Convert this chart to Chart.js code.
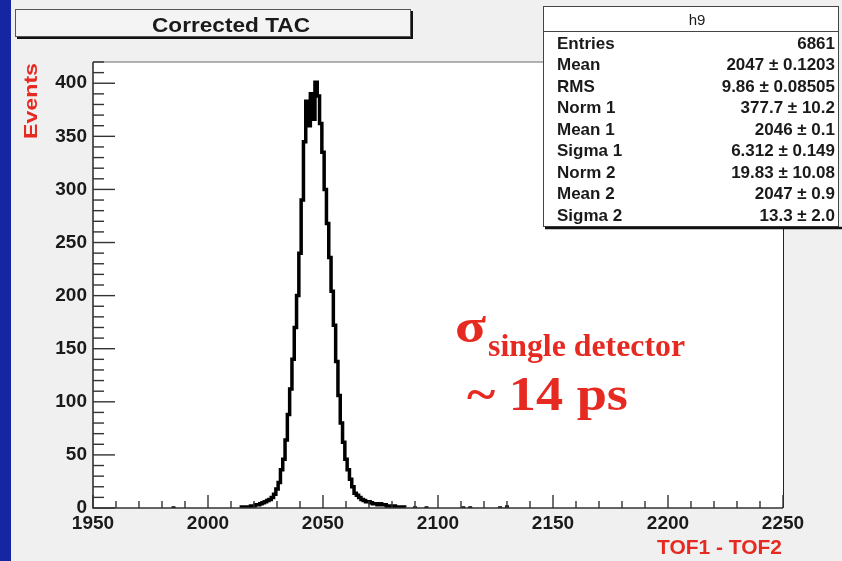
<!DOCTYPE html>
<html>
<head>
<meta charset="utf-8">
<script src="https://cdn.jsdelivr.net/npm/chart.js@4.4.1/dist/chart.umd.min.js"></script>
<style>
  html, body { margin: 0; padding: 0; background: #f0f0f0; }
  #wrap { width: 842px; height: 561px; position: relative; }
</style>
</head>
<body>
<div id="wrap"><canvas id="grafico"></canvas></div>
<script>
// histograma TOF1 - TOF2, bins de largura 1 a partir de 2014
const primeiroBin = 2014;
const contagens = [
  0, 1, 0, 1, 1, 2, 2, 3, 3, 4,          // 2014-2023
  5, 6, 7, 8, 10, 13, 18, 24, 36, 46,    // 2024-2033
  64, 88, 112, 140, 170, 200, 240, 290, 345, 383, // 2034-2043
  360, 390, 366, 401, 388, 362, 335, 300, 268, 236, // 2044-2053
  204, 172, 138, 106, 80, 62, 46, 36, 27, 20,      // 2054-2063
  14, 12, 10, 8, 7, 6, 6, 5, 4, 4,        // 2064-2073
  3, 4, 3, 3, 2, 2, 1, 2, 1, 1,           // 2074-2083
  0, 1, 0                                 // 2084-2086
];
// bins isolados com poucas entradas
const binsAvulsos = [1985, 2090, 2095, 2111, 2114, 2127, 2130];
const valoresAvulsos = [1, 1, 1, 1, 1, 1, 2];

const ticksX = [1950, 2000, 2050, 2100, 2150, 2200, 2250];
const ticksY = [0, 50, 100, 150, 200, 250, 300, 350, 400];

// caixa de estatísticas
const estatNomes = ["Entries", "Mean", "RMS", "Norm 1", "Mean 1", "Sigma 1", "Norm 2", "Mean 2", "Sigma 2"];
const estatValores = ["6861", "2047 \u00b1 0.1203", "9.86 \u00b1 0.08505", "377.7 \u00b1 10.2", "2046 \u00b1 0.1",
  "6.312 \u00b1 0.149", "19.83 \u00b1 10.08", "2047 \u00b1 0.9", "13.3 \u00b1 2.0"];

const vermelho = "#e62a22";
const corTexto = "#1a1a1a";

const pontos = contagens.map((c, i) => ({ x: primeiroBin + i, y: c }));
const pontosAvulsos = [];
binsAvulsos.forEach((b, i) => {
  pontosAvulsos.push({ x: b - 1, y: 0 }, { x: b, y: valoresAvulsos[i] }, { x: b + 1, y: 0 }, { x: b + 1.5, y: null });
});

// escreve texto, esticando na horizontal até a largura desejada
function texto(ctx, str, x, y, fonte, cor, alinhar, largura) {
  ctx.save();
  ctx.font = fonte;
  ctx.fillStyle = cor;
  ctx.textBaseline = "alphabetic";
  const w = ctx.measureText(str).width;
  const k = largura ? largura / w : 1;
  let x0 = x;
  if (alinhar === "center") x0 = x - (w * k) / 2;
  else if (alinhar === "right") x0 = x - w * k;
  ctx.translate(x0, y);
  ctx.scale(k, 1);
  ctx.textAlign = "left";
  ctx.fillText(str, 0, 0);
  ctx.restore();
}

const fundo = {
  id: "fundo",
  beforeDraw(chart) {
    const { ctx, chartArea: a, width, height } = chart;
    ctx.save();
    ctx.fillStyle = "#f0f0f0";
    ctx.fillRect(0, 0, width, height);
    ctx.fillStyle = "#ffffff";
    ctx.fillRect(a.left, a.top, a.right - a.left, a.bottom - a.top);
    ctx.fillStyle = "#1526a3";
    ctx.fillRect(0, 0, 11, height);
    ctx.restore();
  }
};

const eixosRoot = {
  id: "eixosRoot",
  afterDatasetsDraw(chart) {
    const { ctx, chartArea: a, scales: { x, y } } = chart;
    ctx.save();
    // moldura
    ctx.strokeStyle = "#999";
    ctx.lineWidth = 1.5;
    ctx.beginPath(); ctx.moveTo(a.left, a.top); ctx.lineTo(a.right, a.top); ctx.stroke();
    ctx.strokeStyle = "#222";
    ctx.lineWidth = 1;
    ctx.beginPath(); ctx.moveTo(a.right + 0.5, a.top); ctx.lineTo(a.right + 0.5, a.bottom); ctx.stroke();
    ctx.strokeStyle = "#333";
    ctx.lineWidth = 1.6;
    ctx.beginPath(); ctx.moveTo(a.left, a.top); ctx.lineTo(a.left, a.bottom); ctx.lineTo(a.right, a.bottom); ctx.stroke();
    // marcas do eixo y
    ctx.lineWidth = 1.4;
    for (let v = 0; v <= y.max; v += 10) {
      const py = y.getPixelForValue(v);
      const len = v % 50 === 0 ? 22 : 11;
      ctx.beginPath(); ctx.moveTo(a.left, py); ctx.lineTo(a.left + len, py); ctx.stroke();
    }
    // marcas do eixo x
    for (let v = x.min; v <= x.max; v += 10) {
      const px = x.getPixelForValue(v);
      const len = v % 50 === 0 ? 13 : 7;
      ctx.beginPath(); ctx.moveTo(px, a.bottom); ctx.lineTo(px, a.bottom - len); ctx.stroke();
    }
    ctx.restore();
  }
};

const anotacoes = {
  id: "anotacoes",
  afterDraw(chart) {
    const ctx = chart.ctx;
    ctx.save();
    // título
    ctx.fillStyle = "#f4f4f4";
    ctx.fillRect(15, 9, 396, 28);
    ctx.strokeStyle = "#555";
    ctx.lineWidth = 1;
    ctx.strokeRect(15.5, 9.5, 395, 27);
    ctx.strokeStyle = "#111";
    ctx.lineWidth = 2;
    ctx.beginPath(); ctx.moveTo(17, 38); ctx.lineTo(412, 38); ctx.lineTo(412, 11); ctx.stroke();
    texto(ctx, "Corrected TAC", 231, 31.5, "bold 21px 'Liberation Sans', Arial, sans-serif", corTexto, "center", 158);

    // caixa de estatísticas
    ctx.fillStyle = "#ffffff";
    ctx.fillRect(543, 6, 296, 220);
    ctx.strokeStyle = "#444";
    ctx.lineWidth = 1;
    ctx.strokeRect(543.5, 6.5, 295, 220);
    ctx.beginPath(); ctx.moveTo(543, 31.5); ctx.lineTo(839, 31.5); ctx.stroke();
    ctx.strokeStyle = "#111";
    ctx.lineWidth = 2.5;
    ctx.beginPath(); ctx.moveTo(545, 228); ctx.lineTo(842, 228); ctx.stroke();
    texto(ctx, "h9", 697, 25, "15px 'Liberation Sans', Arial, sans-serif", corTexto, "center");
    estatNomes.forEach((nome, i) => {
      const yb = 48.5 + i * 21.5;
      texto(ctx, nome, 557, yb, "bold 17px 'Liberation Sans', Arial, sans-serif", corTexto, "left");
      texto(ctx, estatValores[i], 835, yb, "bold 17px 'Liberation Sans', Arial, sans-serif", corTexto, "right");
    });

    // rótulos dos eixos
    ctx.save();
    ctx.translate(37, 101);
    ctx.rotate(-Math.PI / 2);
    texto(ctx, "Events", 0, 0, "bold 19px 'Liberation Sans', Arial, sans-serif", vermelho, "center", 76);
    ctx.restore();
    texto(ctx, "TOF1 - TOF2", 782, 554, "bold 20px 'Liberation Sans', Arial, sans-serif", vermelho, "right", 125);

    // resolução
    texto(ctx, "\u03c3", 455, 342, "bold 48px 'Liberation Serif', 'Times New Roman', serif", vermelho, "left", 31);
    texto(ctx, "single detector", 488, 356, "bold 31px 'Liberation Serif', 'Times New Roman', serif", vermelho, "left", 197);
    texto(ctx, "~ 14 ps", 467, 410, "bold 48px 'Liberation Serif', 'Times New Roman', serif", vermelho, "left", 161);
    ctx.restore();
  }
};

const fonteTicks = { family: "'Liberation Sans', Arial, sans-serif", size: 19, weight: "bold" };

const chart = new Chart(document.getElementById("grafico").getContext("2d"), {
  type: "line",
  data: {
    datasets: [{
      data: pontos,
      borderColor: "#000",
      borderWidth: 3.5,
      stepped: "middle",
      fill: false,
      pointRadius: 0
    }, {
      data: pontosAvulsos,
      borderColor: "#000",
      borderWidth: 1.5,
      stepped: "middle",
      fill: false,
      spanGaps: false,
      pointRadius: 0
    }]
  },
  options: {
    responsive: true,
    maintainAspectRatio: false,
    animation: false,
    layout: { padding: { left: 0, top: 62, right: 59, bottom: 0 } },
    plugins: { legend: { display: false }, tooltip: { enabled: false } },
    scales: {
      x: {
        type: "linear",
        min: 1950,
        max: 2250,
        grid: { display: false, drawTicks: false },
        border: { display: false },
        afterBuildTicks(s) { s.ticks = ticksX.map(v => ({ value: v })); },
        ticks: {
          font: fonteTicks, color: corTexto, padding: 4, maxRotation: 0, autoSkip: false,
          callback: v => String(v)
        },
        afterFit(s) { s.height = 53; }
      },
      y: {
        min: 0,
        max: 420,
        grid: { display: false, drawTicks: false },
        border: { display: false },
        afterBuildTicks(s) { s.ticks = ticksY.map(v => ({ value: v })); },
        ticks: { font: fonteTicks, color: corTexto, padding: 6, callback: v => String(v) },
        afterFit(s) { s.width = 93; }
      }
    }
  },
  plugins: [fundo, eixosRoot, anotacoes]
});
</script>
</body>
</html>
